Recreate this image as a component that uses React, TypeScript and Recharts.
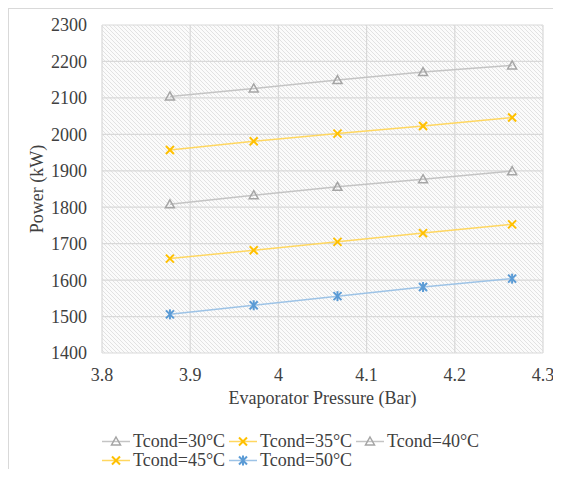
import React from "react";
import {
  LineChart,
  Line,
  XAxis,
  YAxis,
  CartesianGrid,
} from "recharts";

const pressure = [3.877, 3.972, 4.067, 4.164, 4.265];
const t30 = [2104, 2126, 2149, 2171, 2189];
const t35 = [1957, 1981, 2002, 2023, 2046];
const t40 = [1808, 1833, 1856, 1877, 1899];
const t45 = [1659, 1682, 1705, 1729, 1753];
const t50 = [1506, 1531, 1556, 1581, 1604];

const xTicks = [3.8, 3.9, 4.0, 4.1, 4.2, 4.3];
const yTicks = [1400, 1500, 1600, 1700, 1800, 1900, 2000, 2100, 2200, 2300];

const data = pressure.map((p, i) => ({
  p,
  t30: t30[i],
  t35: t35[i],
  t40: t40[i],
  t45: t45[i],
  t50: t50[i],
}));

const GRAY = "#a5a5a5";
const GRAY_LINE = "#c4c4c4";
const YELLOW = "#ffc000";
const YELLOW_LINE = "#ffd760";
const BLUE = "#5b9bd5";
const BLUE_LINE = "#9dc3e6";

const FONT = "Liberation Serif";
const TEXT = "#404040";

type Shape = "tri" | "x" | "star";

const Marker = ({ shape, cx, cy, color }: { shape: Shape; cx: number; cy: number; color: string }) => {
  if (shape === "tri") {
    return (
      <path
        d={`M${cx},${cy - 4.5} L${cx + 4.5},${cy + 3.5} L${cx - 4.5},${cy + 3.5} Z`}
        fill="none"
        stroke={color}
        strokeWidth={1.5}
      />
    );
  }
  const s = 4;
  return (
    <g stroke={color} strokeWidth={2}>
      <line x1={cx - s} y1={cy - s} x2={cx + s} y2={cy + s} />
      <line x1={cx - s} y1={cy + s} x2={cx + s} y2={cy - s} />
      {shape === "star" && <line x1={cx} y1={cy - s - 1} x2={cx} y2={cy + s + 1} />}
    </g>
  );
};

const series = [
  { key: "t30", name: "Tcond=30°C", color: GRAY, line: GRAY_LINE, shape: "tri" as Shape },
  { key: "t35", name: "Tcond=35°C", color: YELLOW, line: YELLOW_LINE, shape: "x" as Shape },
  { key: "t40", name: "Tcond=40°C", color: GRAY, line: GRAY_LINE, shape: "tri" as Shape },
  { key: "t45", name: "Tcond=45°C", color: YELLOW, line: YELLOW_LINE, shape: "x" as Shape },
  { key: "t50", name: "Tcond=50°C", color: BLUE, line: BLUE_LINE, shape: "star" as Shape },
];

const LegendBox = () => (
  <div
    style={{
      position: "absolute",
      left: 93,
      top: 423,
      width: 400,
      display: "flex",
      flexWrap: "wrap",
      fontFamily: FONT,
      fontSize: 18,
      color: TEXT,
      lineHeight: "19px",
    }}
  >
    {series.map((s) => (
      <div key={s.key} style={{ width: 127, display: "flex", alignItems: "center" }}>
        <svg width={28} height={19} style={{ marginRight: 3 }}>
          <line x1={0} y1={9.5} x2={28} y2={9.5} stroke={s.line} strokeWidth={1.5} />
          <Marker shape={s.shape} cx={14} cy={9.5} color={s.color} />
        </svg>
        <span style={{ whiteSpace: "nowrap" }}>{s.name}</span>
      </div>
    ))}
  </div>
);

export default function App() {
  return (
    <div
      style={{
        position: "relative",
        width: 544,
        height: 460,
        borderTop: "1px solid #d9d9d9",
        borderLeft: "1px solid #d9d9d9",
        fontFamily: FONT,
      }}
    >
      <LineChart width={544} height={460} data={data} margin={{ top: 16, right: 10, left: 0, bottom: 0 }}>
        <defs>
          <pattern id="hatch" width={4} height={4} patternUnits="userSpaceOnUse">
            <rect width={4} height={4} fill="#fbfbfb" />
            <path d="M0,0 L4,4 M-1,3 L1,5 M3,-1 L5,1" stroke="#e2e2e2" strokeWidth={1} />
          </pattern>
        </defs>
        <CartesianGrid stroke="#d9d9d9" strokeWidth={1.2} fill="url(#hatch)" fillOpacity={1} />
        <XAxis
          dataKey="p"
          type="number"
          domain={[3.8, 4.3]}
          ticks={xTicks}
          tickFormatter={(v: number) => (Math.abs(v - 4) < 1e-9 ? "4" : v.toFixed(1))}
          axisLine={false}
          tickLine={false}
          tickSize={0}
          tickMargin={15}
          height={116}
          interval={0}
          tick={{ fill: TEXT, fontSize: 18, fontFamily: FONT }}
          label={{
            value: "Evaporator Pressure (Bar)",
            position: "insideTop",
            offset: 38,
            style: { fill: TEXT, fontSize: 18, fontFamily: FONT },
          }}
        />
        <YAxis
          type="number"
          domain={[1400, 2300]}
          ticks={yTicks}
          axisLine={false}
          tickLine={false}
          tickSize={0}
          tickMargin={15}
          width={93}
          interval={0}
          tick={{ fill: TEXT, fontSize: 18, fontFamily: FONT }}
          label={{
            value: "Power (kW)",
            angle: -90,
            position: "insideLeft",
            offset: 28,
            style: { fill: TEXT, fontSize: 18, fontFamily: FONT, textAnchor: "middle" },
          }}
        />
        {series.map((s) => (
          <Line
            key={s.key}
            dataKey={s.key}
            name={s.name}
            type="linear"
            stroke={s.line}
            strokeWidth={1.5}
            isAnimationActive={false}
            activeDot={false}
            dot={(p: any) => (
              <Marker key={`${s.key}-${p.index}`} shape={s.shape} cx={p.cx} cy={p.cy} color={s.color} />
            )}
          />
        ))}
      </LineChart>
      <LegendBox />
    </div>
  );
}
